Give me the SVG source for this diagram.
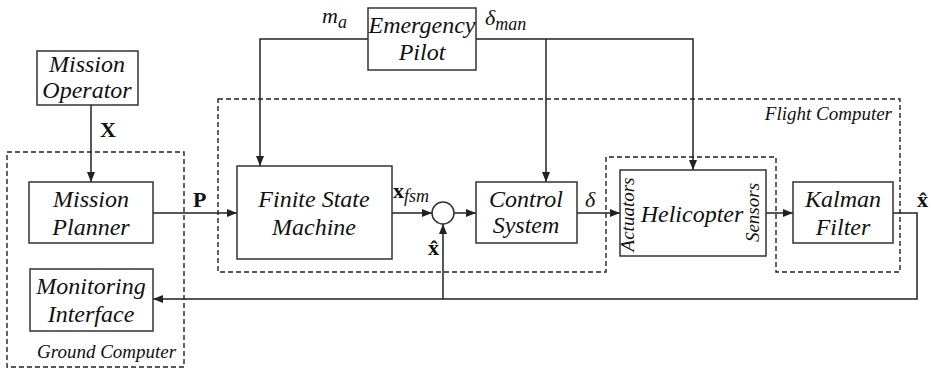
<svg xmlns="http://www.w3.org/2000/svg" width="933" height="370" viewBox="0 0 933 370">
  <style>
    text { font-family: "Liberation Serif", "DejaVu Serif", serif; fill: #111; }
    .box { fill: #fff; stroke: #333; stroke-width: 1.5; }
    .dash { fill: none; stroke: #222; stroke-width: 1.4; stroke-dasharray: 5 3; }
    .wire { fill: none; stroke: #222; stroke-width: 1.5; }
    .lbl { font-style: italic; font-size: 24px; text-anchor: middle; }
    .grp { font-style: italic; font-size: 19px; }
    .side { font-style: italic; font-size: 19px; text-anchor: middle; }
    .sym { font-size: 22px; }
    .bold { font-weight: bold; }
    .it { font-style: italic; }
  </style>
  <defs>
    <marker id="arrow" viewBox="0 0 10 8" refX="10" refY="4" markerWidth="10" markerHeight="8" markerUnits="userSpaceOnUse" orient="auto">
      <path d="M0,0 L10,4 L0,8 z" fill="#222"/>
    </marker>
  </defs>

  <!-- computer boundaries -->
  <g id="ground-computer">
    <rect class="dash" x="7" y="152" width="177" height="215"/>
    <text class="grp" x="37" y="358">Ground Computer</text>
  </g>
  <g id="flight-computer">
    <path class="dash" d="M218,99 H900 V272 H776 V157 H606 V272 H218 Z"/>
    <text class="grp" x="892" y="120" text-anchor="end">Flight Computer</text>
  </g>

  <!-- connectors -->
  <g id="connectors">
    <path class="wire" d="M91,105 V182" marker-end="url(#arrow)"/>
    <path class="wire" d="M153,213 H237" marker-end="url(#arrow)"/>
    <path class="wire" d="M368,39 H260 V166" marker-end="url(#arrow)"/>
    <path class="wire" d="M476,39 H693 V170" marker-end="url(#arrow)"/>
    <path class="wire" d="M546,39 V182" marker-end="url(#arrow)"/>
    <path class="wire" d="M392,213 H432" marker-end="url(#arrow)"/>
    <path class="wire" d="M454,213 H476" marker-end="url(#arrow)"/>
    <path class="wire" d="M577,213 H620" marker-end="url(#arrow)"/>
    <path class="wire" d="M766,213 H793" marker-end="url(#arrow)"/>
    <path class="wire" d="M893,213 H917 V299 H153" marker-end="url(#arrow)"/>
    <path class="wire" d="M443,299 V224" marker-end="url(#arrow)"/>

    <!-- signal labels -->
    <text class="sym bold" x="100" y="137">X</text>
    <text class="sym bold" x="193" y="207">P</text>
    <text class="sym it" x="322" y="23">m<tspan font-size="18" dy="5">a</tspan></text>
    <text class="sym it" x="485" y="25">δ<tspan font-size="18" dy="5">man</tspan></text>
    <text class="sym bold" x="393" y="198">x<tspan class="it" font-weight="normal" font-size="18" dy="4">fsm</tspan></text>
    <text class="sym bold" x="428" y="255">x̂</text>
    <text class="sym it" x="585" y="207">δ</text>
    <text class="sym bold" x="917" y="207">x̂</text>
  </g>

  <!-- blocks -->
  <g id="mission-operator">
    <rect class="box" x="37" y="51" width="101" height="54"/>
    <text class="lbl" x="87" y="72">Mission</text>
    <text class="lbl" x="87" y="98">Operator</text>
  </g>
  <g id="mission-planner">
    <rect class="box" x="29" y="182" width="124" height="61"/>
    <text class="lbl" x="91" y="207">Mission</text>
    <text class="lbl" x="91" y="235">Planner</text>
  </g>
  <g id="monitoring-interface">
    <rect class="box" x="30" y="269" width="123" height="62"/>
    <text class="lbl" x="91" y="294">Monitoring</text>
    <text class="lbl" x="91" y="322">Interface</text>
  </g>
  <g id="emergency-pilot">
    <rect class="box" x="368" y="8" width="108" height="62"/>
    <text class="lbl" x="422" y="33">Emergency</text>
    <text class="lbl" x="422" y="60">Pilot</text>
  </g>
  <g id="finite-state-machine">
    <rect class="box" x="237" y="166" width="155" height="93"/>
    <text class="lbl" x="314" y="207">Finite State</text>
    <text class="lbl" x="314" y="235">Machine</text>
  </g>
  <g id="summing-junction">
    <circle class="box" cx="443" cy="213" r="11"/>
  </g>
  <g id="control-system">
    <rect class="box" x="476" y="182" width="101" height="61"/>
    <text class="lbl" x="526" y="207">Control</text>
    <text class="lbl" x="526" y="233">System</text>
  </g>
  <g id="helicopter">
    <rect class="box" x="620" y="170" width="146" height="86"/>
    <text class="lbl" x="692" y="222" font-size="26">Helicopter</text>
    <text class="side" transform="translate(634,214.5) rotate(-90)">Actuators</text>
    <text class="side" transform="translate(759,212.5) rotate(-90)">Sensors</text>
  </g>
  <g id="kalman-filter">
    <rect class="box" x="793" y="182" width="100" height="61"/>
    <text class="lbl" x="843" y="207">Kalman</text>
    <text class="lbl" x="843" y="235">Filter</text>
  </g>
</svg>
